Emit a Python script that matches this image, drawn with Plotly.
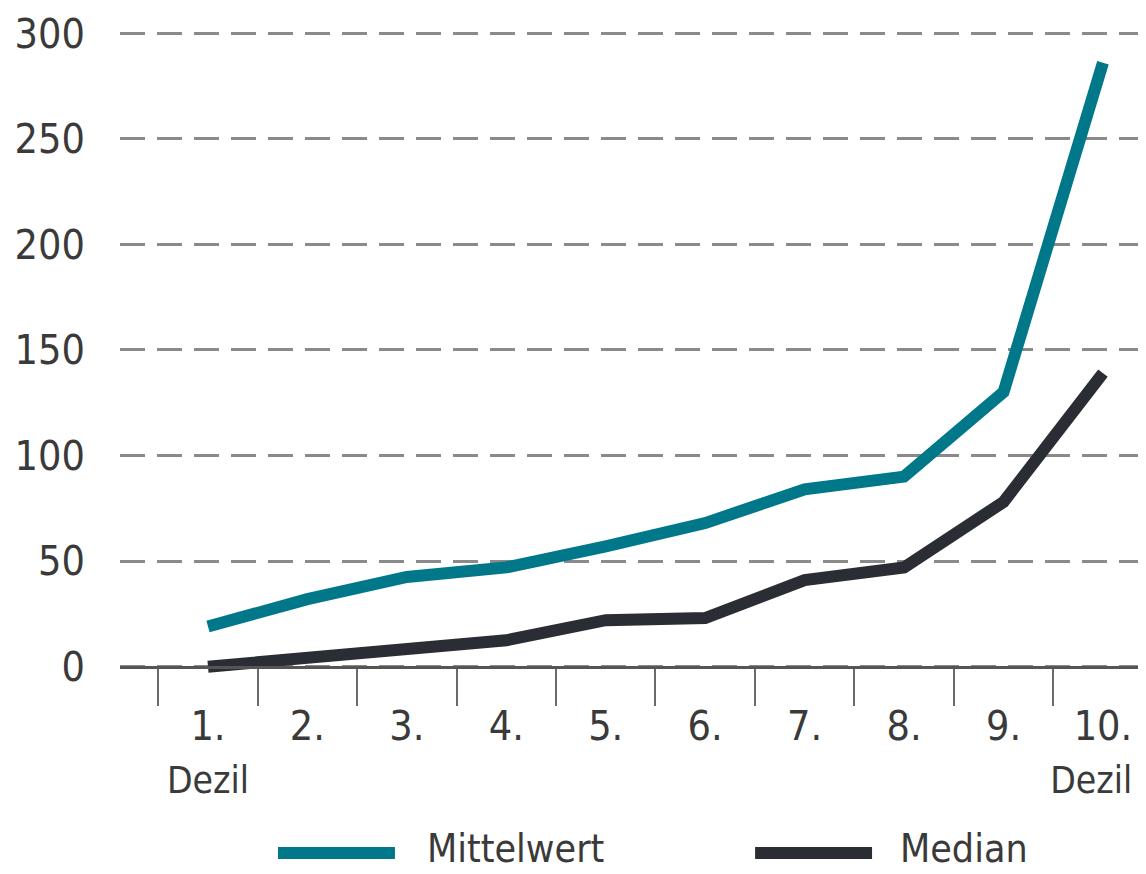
import plotly.graph_objects as go

# Dezile und Werte
dezil_small = "<span style='font-size:37px'>Dezil</span>"
dezile = ["1.<br>" + dezil_small, "2.", "3.", "4.", "5.", "6.", "7.", "8.", "9.",
          "10.<br>" + dezil_small + "&nbsp;&nbsp;"]
mittelwert = [19, 32, 42.5, 47, 57, 68, 84, 90, 130, 286]
median = [0, 4.5, 9, 12.5, 22, 23, 41, 47, 78, 139]
y_ticks = [0, 50, 100, 150, 200, 250, 300]

teal = "#00788A"
dark = "#2A2D33"
font_family = "Liberation Sans Narrow, Arial Narrow, DejaVu Sans Condensed, sans-serif"
text_color = "#3A3A3A"

fig = go.Figure()

for name, values, color in [("Mittelwert", mittelwert, teal), ("Median", median, dark)]:
    fig.add_trace(
        go.Scatter(
            x=dezile,
            y=values,
            mode="lines",
            name=name,
            line=dict(color=color, width=12),
            showlegend=False,
        )
    )

# eigene Legende mit langen Linien
legend_items = [("Mittelwert", teal, 0.154, 0.268, 0.297), ("Median", dark, 0.619, 0.733, 0.758)]
for label, color, x0, x1, xt in legend_items:
    fig.add_shape(
        type="line", xref="paper", yref="paper",
        x0=x0, x1=x1, y0=-0.2715, y1=-0.2715,
        line=dict(color=color, width=12),
    )
    fig.add_annotation(
        text=label, xref="paper", yref="paper",
        x=xt, y=-0.265, xanchor="left", yanchor="middle",
        showarrow=False, font=dict(size=39, color=text_color, family=font_family),
    )

# die Seite hat 8px Rand, daher etwas kleiner und nach links/oben versetzt
fig.update_layout(
    width=1138,
    height=866,
    font=dict(family=font_family, size=41, color=text_color),
    plot_bgcolor="white",
    paper_bgcolor="white",
    margin=dict(l=112, r=0, t=2, b=201),
)

fig.update_yaxes(
    range=[-3, 311],
    tickvals=y_ticks,
    showgrid=True,
    gridcolor="#8A8A8A",
    gridwidth=2.5,
    griddash="25px,12px",
    zeroline=False,
    showline=False,
    ticks="",
    ticklabelstandoff=34,
    automargin=False,
)

fig.update_xaxes(
    type="category",
    range=[-0.885, 9.433],
    anchor="free",
    position=3 / 314,
    showgrid=False,
    showline=True,
    linecolor="#555555",
    linewidth=3,
    ticks="outside",
    tickson="boundaries",
    ticklen=37,
    tickwidth=2,
    tickcolor="#6A6A6A",
    tickangle=0,
    ticklabelstandoff=22,
    automargin=False,
)

fig.write_html("out.html")
